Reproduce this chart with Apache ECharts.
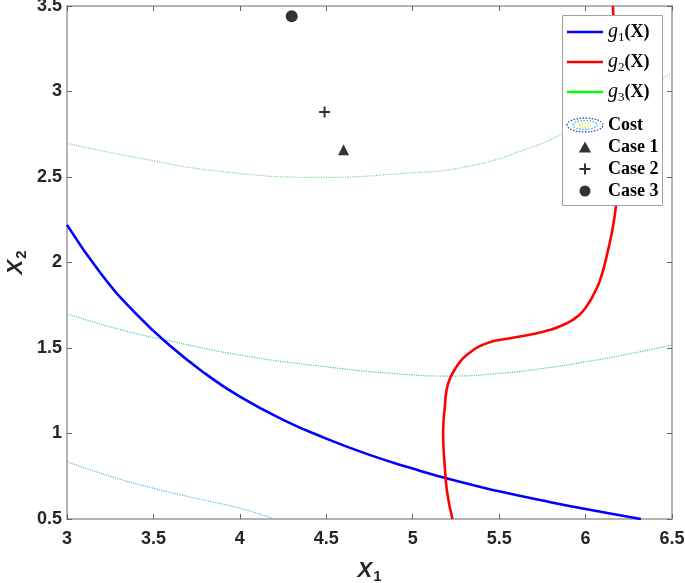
<!DOCTYPE html>
<html>
<head>
<meta charset="utf-8">
<script src="https://cdn.jsdelivr.net/npm/echarts@6/dist/echarts.min.js"></script>
<style>
  html, body { margin: 0; padding: 0; background: #fff; }
  #main { width: 685px; height: 583px; }
</style>
</head>
<body>
<div id="main"></div>
<script>
// constraint curves [x1, x2]
var g1Pts = [[3, 2.22], [3.2, 1.93], [3.4, 1.70], [3.6, 1.51], [3.8, 1.35], [4, 1.215],
  [4.25, 1.08], [4.5, 0.97], [4.75, 0.875], [5, 0.795], [5.25, 0.723], [5.5, 0.662],
  [5.75, 0.608], [6, 0.558], [6.32, 0.5]];
var g2Pts = [[5.23, 0.5], [5.2, 0.65], [5.186, 0.8], [5.176, 1.0], [5.186, 1.157],
  [5.205, 1.293], [5.254, 1.391], [5.312, 1.459], [5.427, 1.527], [5.562, 1.557],
  [5.755, 1.595], [5.89, 1.644], [5.96, 1.69], [6.01, 1.75], [6.05, 1.82], [6.085, 1.9],
  [6.125, 2.05], [6.165, 2.25], [6.185, 2.45], [6.19, 2.7], [6.18, 3.0], [6.17, 3.25], [6.158, 3.5]];
var g3Pts = [];
// cost contours (dotted)
var costLow = [[3, 0.835], [3.25, 0.75], [3.5, 0.68], [3.75, 0.62], [4, 0.563], [4.2, 0.5]];
var costMid = [[3, 1.7], [3.3, 1.61], [3.615, 1.537], [4, 1.459], [4.5, 1.39], [4.926, 1.348],
  [5.215, 1.336], [5.504, 1.352], [5.75, 1.38], [6.006, 1.42], [6.25, 1.465], [6.5, 1.517]];
var costHigh = [[3, 2.697], [3.42, 2.61], [3.904, 2.531], [4.48, 2.498], [4.926, 2.52],
  [5.31, 2.56], [5.697, 2.677], [5.87, 2.755], [6.0, 2.83], [6.25, 2.97], [6.5, 3.106]];
// optimum points
var case1 = [[4.6, 2.66]];
var case2 = [[4.49, 2.88]];
var case3 = [[4.3, 3.44]];

var xMin = 3, xMax = 6.5, xStep = 0.5;
var yMin = 0.5, yMax = 3.5, yStep = 0.5;

var plusPath = "path://M0,5L10,5M5,0L5,10";
var triPath = "path://M5,0L10,9L0,9Z";
var linePath = "path://M0,0H36V2.6H0Z";
var labelFont = { fontFamily: "Liberation Sans", fontWeight: "bold", fontSize: 18, color: "#262626" };
var frameColor = "#9a9a9a";

function mkAxis(pos, min, max, step, isMain, margin) {
  return {
    type: "value",
    position: pos,
    min: min, max: max, interval: step,
    splitLine: { show: false },
    axisLine: { show: true, onZero: false, lineStyle: { color: frameColor, width: 1.5 } },
    axisTick: { show: true, inside: true, length: 5, lineStyle: { color: "#666", width: 1 } },
    axisLabel: Object.assign({ show: isMain, margin: margin }, labelFont)
  };
}

var nameStyle = {
  rich: {
    x: { fontFamily: "Liberation Sans", fontStyle: "italic", fontWeight: "bold", fontSize: 22, color: "#262626" },
    s: { fontFamily: "Liberation Sans", fontWeight: "bold", fontSize: 15, color: "#262626", padding: [12, 0, 0, 1] }
  }
};
var xAxisMain = mkAxis("bottom", xMin, xMax, xStep, true, 11);
xAxisMain.name = "{x|X}{s|1}";
xAxisMain.nameLocation = "middle";
xAxisMain.nameGap = 38;
xAxisMain.nameMoveOverlap = false;
xAxisMain.nameTextStyle = nameStyle;
var yAxisMain = mkAxis("left", yMin, yMax, yStep, true, 5);
yAxisMain.name = "{x|X}{s|2}";
yAxisMain.nameLocation = "middle";
yAxisMain.nameGap = 38;
yAxisMain.nameMoveOverlap = false;
yAxisMain.nameTextStyle = nameStyle;

var legRich = {
  g: { fontFamily: "Liberation Serif", fontStyle: "italic", fontSize: 20, color: "#000" },
  sub: { fontFamily: "Liberation Serif", fontSize: 13, color: "#000", padding: [11, 0, 0, 0] },
  X: { fontFamily: "Liberation Serif", fontWeight: "bold", fontSize: 18, color: "#000" },
  b: { fontFamily: "Liberation Serif", fontWeight: "bold", fontSize: 18, color: "#000" }
};
function legFormatter(name) {
  if (name.charAt(0) === "g") {
    return "{g|g}{sub|" + name.charAt(1) + "}{X|(X)}";
  }
  return "{b|" + name + "}";
}
var legBase = {
  orient: "vertical",
  left: 567,
  padding: 0,
  zlevel: 1,
  z: 5,
  itemWidth: 36,
  itemHeight: 11,
  selectedMode: false,
  formatter: legFormatter,
  textStyle: { rich: legRich }
};

var option = {
  animation: false,
  backgroundColor: "#fff",
  grid: { left: 67, right: 13, top: 6, bottom: 64, containLabel: false, outerBoundsMode: "none" },
  xAxis: [xAxisMain, mkAxis("top", xMin, xMax, xStep, false, 8)],
  yAxis: [yAxisMain, mkAxis("right", yMin, yMax, yStep, false, 8)],
  legend: [
    Object.assign({}, legBase, {
      top: 22,
      itemGap: 8,
      data: [
        { name: "g1", icon: linePath, itemStyle: { color: "#0000ff" } },
        { name: "g2", icon: linePath, itemStyle: { color: "#ff0000" } },
        { name: "g3", icon: linePath, itemStyle: { color: "#00ff00" } }
      ]
    }),
    Object.assign({}, legBase, {
      top: 116,
      itemGap: 4,
      data: [
        { name: "Cost", icon: "rect", itemStyle: { opacity: 0 } },
        { name: "Case 1", icon: triPath },
        { name: "Case 2", icon: plusPath, itemStyle: { color: "none", borderColor: "#000", borderWidth: 2 } },
        { name: "Case 3", icon: "circle" }
      ]
    })
  ],
  graphic: [
    { type: "rect", zlevel: 1, z: 0, shape: { x: 562.5, y: 15.5, width: 100, height: 190 },
      style: { fill: "#fff", stroke: "#a0a0a0", lineWidth: 1 } },
    { type: "ellipse", zlevel: 1, z: 100, shape: { cx: 585, cy: 125, rx: 18, ry: 7 },
      style: { fill: "none", stroke: "#4a3fb8", lineWidth: 1.3, lineDash: [1.5, 1.5] } },
    { type: "ellipse", zlevel: 1, z: 100, shape: { cx: 585, cy: 125, rx: 12, ry: 4.5 },
      style: { fill: "none", stroke: "#22bcd0", lineWidth: 1.3, lineDash: [1.5, 1.5] } },
    { type: "ellipse", zlevel: 1, z: 100, shape: { cx: 585, cy: 125, rx: 5.5, ry: 2.2 },
      style: { fill: "none", stroke: "#e4dc20", lineWidth: 1.3, lineDash: [1.5, 1.5] } }
  ],
  series: [
    { name: "Cost", type: "line", data: costLow, smooth: true, symbol: "none",
      color: "#4a3fb8", lineStyle: { color: "#56b6e6", width: 1.2, type: "dotted" } },
    { name: "Cost", type: "line", data: costMid, smooth: true, symbol: "none",
      color: "#4a3fb8", lineStyle: { color: "#3cc6c6", width: 1.2, type: "dotted" } },
    { name: "Cost", type: "line", data: costHigh, smooth: true, symbol: "none",
      color: "#4a3fb8", lineStyle: { color: "#84d884", width: 1.2, type: "dotted" } },
    { name: "g1", type: "line", data: g1Pts, smooth: true, symbol: "none",
      color: "#0000ff", lineStyle: { width: 2.6 } },
    { name: "g2", type: "line", data: g2Pts, smooth: true, symbol: "none",
      color: "#ff0000", lineStyle: { width: 2.6 } },
    { name: "g3", type: "line", data: g3Pts, symbol: "none",
      color: "#00ff00", lineStyle: { width: 2.6 } },
    { name: "Case 1", type: "scatter", data: case1, symbol: "triangle", symbolSize: 11, color: "#000" },
    { name: "Case 2", type: "scatter", data: case2, symbol: plusPath, symbolSize: 11,
      itemStyle: { color: "none", borderColor: "#000", borderWidth: 2 } },
    { name: "Case 3", type: "scatter", data: case3, symbol: "circle", symbolSize: 12, color: "#000" }
  ]
};

var myChart = echarts.init(document.getElementById("main"));
myChart.setOption(option);
</script>
</body>
</html>
